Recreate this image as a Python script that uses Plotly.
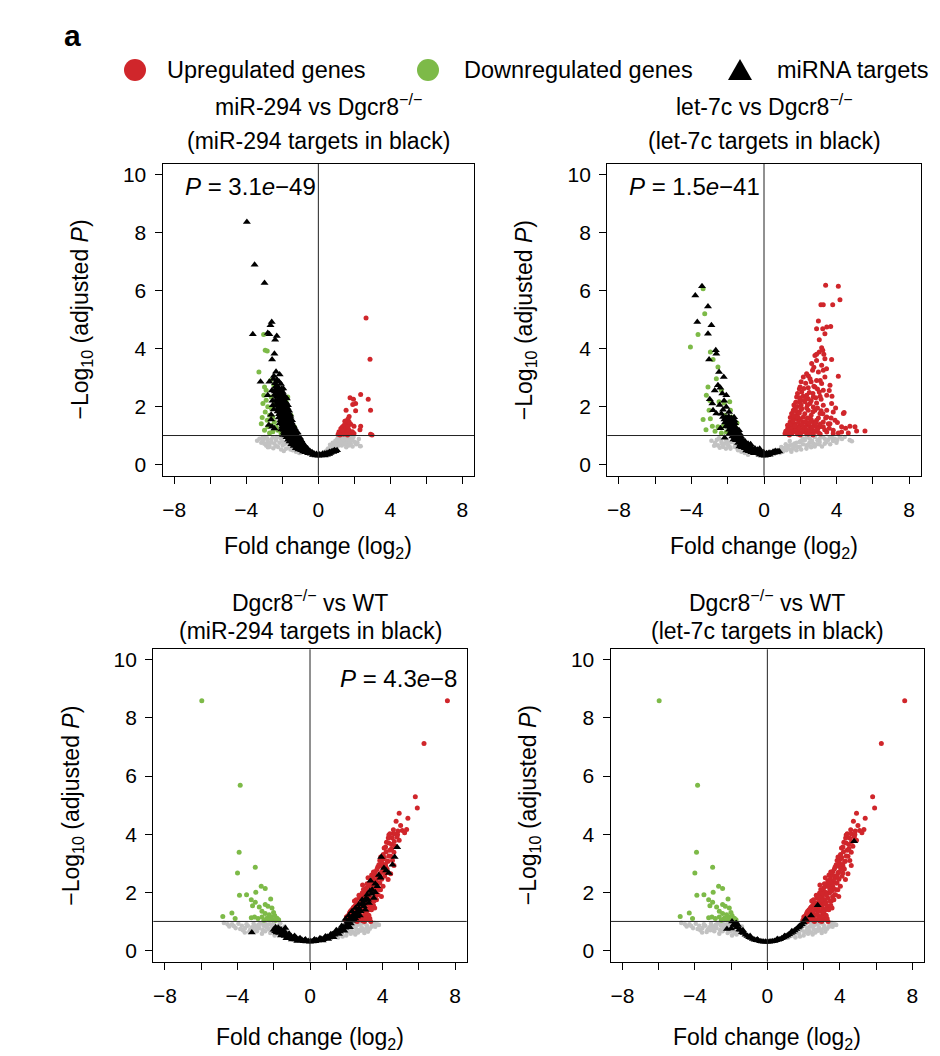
import plotly.graph_objects as go

# The page body adds an 8 px margin, so the figure is drawn 8 px smaller and every
# reference pixel position is shifted by that offset.
OFF = 8
W, H = 940 - OFF, 1056 - OFF
FONT = "Liberation Sans, Arial, Helvetica, sans-serif"

# ---------------- data (log2 fold change, -log10 adjusted P) ----------------
# Panel 1: miR-294 vs Dgcr8-/-
p1_grey = [(0.33,0.43),(0.51,0.52),(0.69,0.61),(0.88,0.70),(1.06,0.78),(1.25,0.86),(1.43,0.95),(1.15,0.72),
           (1.34,0.78),(1.52,0.84),(1.71,0.89),(1.89,0.84),(1.80,0.72),(2.02,0.78),(2.31,0.64),(2.17,0.75),
           (1.61,0.78),(0.97,0.61),(0.79,0.53),(0.60,0.47),(1.43,0.70),(1.65,0.93),(1.95,0.95),(2.35,0.63),
           (1.20,0.92),(1.05,0.88),(0.45,0.40),(0.72,0.50),(1.30,0.66),(1.55,0.60),(0.90,0.56),(1.10,0.65),
           (-3.27,0.89),(-3.08,0.84),(-2.81,0.78),(-2.62,0.86),(-2.44,0.72),(-2.25,0.61),(-2.07,0.52),(-1.92,0.47),
           (-1.79,0.55),(-2.90,0.66),(-2.71,0.61),(-2.53,0.93),(-3.17,0.75),(-2.99,0.95),(-2.35,0.84),(-2.16,0.75),
           (-1.98,0.66),(-1.61,0.61),(-1.42,0.49),(-1.24,0.44),(-1.06,0.40),(-3.04,0.86),(-2.72,0.72),(-2.35,0.64),
           (-1.85,0.72),(-2.10,0.90),
           (0.25,0.36),(0.40,0.45),(0.55,0.55),(0.65,0.68),(0.80,0.75),(0.95,0.82),(1.10,0.96),(1.25,0.75),
           (1.40,0.86),(1.58,0.97),(1.75,0.80),(1.85,0.96),(2.10,0.70),(2.25,0.88),(1.00,0.70),(0.85,0.64),
           (1.35,0.92),(1.50,0.72),(1.70,0.66),(1.90,0.62),(-3.40,0.82),(-3.10,0.92),(-2.85,0.90),(-2.60,0.76),
           (-2.50,0.56),(-2.30,0.95),(-2.00,0.80),(-1.70,0.75),(-1.55,0.52),(-1.35,0.58),(-1.15,0.50),(-0.95,0.42),
           (-2.80,0.60),(-3.00,0.72)]
p1_down = [(-3.04,4.48),(-2.95,3.94),(-2.84,3.91),(-3.30,3.19),(-2.99,2.67),(-3.03,2.39),(-2.90,2.22),(-3.08,2.10),
           (-2.81,1.99),(-2.95,1.81),(-2.71,1.70),(-2.84,1.53),(-2.53,1.64),(-2.44,1.47),(-2.62,1.35),(-2.35,1.30),
           (-2.81,1.30),(-2.99,1.18),(-2.53,1.13),(-2.25,1.18),(-2.71,1.09),(-2.07,1.07),(-1.89,1.87),(-1.79,2.16),
           (-1.70,2.33),(-1.98,2.44),(-2.16,2.56),(-1.52,1.70),(-1.61,1.47),(-1.33,1.30),(-1.42,1.13),(-1.24,1.07),
           (-2.62,2.33),(-2.44,2.10),(-3.17,1.41),(-2.90,2.56),(-2.66,2.90),(-2.47,2.73),(-3.12,1.62),(-2.60,1.92)]
p1_up = [(2.65,5.05),(2.87,3.63),(2.35,2.41),(1.76,2.30),(1.95,2.25),(2.77,2.25),(2.07,2.10),(1.91,2.07),
         (2.90,1.87),(2.07,1.85),(1.54,1.87),(1.71,1.66),(1.65,1.57),(1.52,1.50),(1.80,1.39),(1.98,1.32),
         (2.35,1.32),(2.31,1.20),(2.90,1.04),(2.98,1.02),(1.15,1.13),(1.25,1.24),(1.34,1.30),(1.43,1.35),
         (1.39,1.18),(1.52,1.24),(1.61,1.13),(1.71,1.18),(1.80,1.09),(1.89,1.13),(1.47,1.07),(1.28,1.07),
         (1.10,1.04),(1.58,1.41),(1.71,1.47),(1.98,1.07),(1.34,1.16),(1.15,1.07),(1.65,1.30),(1.47,1.49),
         (1.20,1.02),(1.62,1.02),(1.40,1.04)]
p1_tgt = [(-3.97,8.36),(-3.54,6.89),(-2.99,6.26),(-2.59,4.91),(-2.66,4.80),(-3.64,4.49),(-2.81,4.53),(-2.72,4.49),
          (-2.31,4.43),(-2.40,4.30),(-2.44,3.82),(-2.57,3.62),(-2.35,3.20),(-3.21,2.85),(-2.72,2.85),(-2.26,2.88),
          (-2.81,2.39),(-2.53,2.04),(-2.75,1.36),(-2.57,1.30),(-2.44,1.24),
          (-2.30,2.92),(-2.18,2.85),(-2.08,2.78),(-2.36,2.70),(-2.22,2.66),(-2.05,2.60),(-2.42,2.52),(-2.27,2.48),
          (-2.12,2.45),(-1.96,2.40),(-2.33,2.33),(-2.19,2.28),(-2.04,2.25),(-1.90,2.20),(-1.79,2.14),(-2.29,2.12),
          (-2.14,2.08),(-1.99,2.03),(-1.86,1.99),(-1.71,1.95),(-2.24,1.93),(-2.09,1.88),(-1.96,1.84),(-1.82,1.80),
          (-1.66,1.76),(-1.56,1.72),(-2.18,1.73),(-2.04,1.69),(-1.90,1.65),(-1.76,1.61),(-1.61,1.57),(-1.46,1.53),
          (-2.10,1.52),(-1.95,1.48),(-1.81,1.45),(-1.66,1.41),(-1.51,1.37),(-1.37,1.33),(-2.01,1.31),(-1.86,1.28),
          (-1.72,1.24),(-1.56,1.21),(-1.42,1.17),(-1.27,1.14),(-1.15,1.10),(-1.91,1.12),(-1.76,1.08),(-1.61,1.05),
          (-1.46,1.01),(-1.31,0.98),(-1.16,0.95),(-1.01,0.92),(-1.77,0.94),(-1.62,0.91),(-1.47,0.87),(-1.32,0.84),
          (-1.17,0.81),(-1.02,0.78),(-0.87,0.75),(-1.60,0.79),(-1.45,0.76),(-1.30,0.72),(-1.15,0.69),(-0.99,0.66),
          (-0.84,0.63),(-0.70,0.60),(-1.36,0.64),(-1.21,0.61),(-1.06,0.58),(-0.91,0.55),(-0.76,0.52),(-0.61,0.49),
          (-0.46,0.46),(-1.10,0.52),(-0.96,0.49),(-0.81,0.47),(-0.66,0.44),(-0.51,0.41),(-0.36,0.39),(-0.21,0.36),
          (-0.72,0.42),(-0.57,0.39),(-0.42,0.37),(-0.27,0.35),(-0.12,0.33),(-0.30,0.33),(-0.15,0.31),(0.00,0.30),
          (0.14,0.31),(0.28,0.32),(0.05,0.33),(0.20,0.34),(0.40,0.35),(0.54,0.37),(0.68,0.40),(0.83,0.43),
          (0.95,0.46),(1.04,0.49),(0.48,0.40),(0.62,0.43),(0.77,0.46),(0.90,0.49),
          (-2.38,2.60),(-2.25,2.55),(-2.10,2.52),(-1.98,2.50),(-2.31,2.40),(-2.16,2.36),(-2.02,2.32),(-1.88,2.30),
          (-2.37,2.20),(-2.24,2.18),(-2.10,2.15),(-1.95,2.12),(-1.82,2.08),(-1.69,2.04),(-2.32,2.02),(-2.18,1.98),
          (-2.03,1.95),(-1.90,1.92),(-1.76,1.88),(-1.62,1.85),(-2.26,1.83),(-2.12,1.79),(-1.98,1.76),(-1.84,1.72),
          (-1.70,1.68),(-1.55,1.65),(-2.20,1.62),(-2.06,1.58),(-1.92,1.55),(-1.78,1.52),(-1.63,1.48),(-1.48,1.45),
          (-2.14,1.42),(-2.00,1.38),(-1.86,1.36),(-1.72,1.33),(-1.58,1.29),(-1.43,1.26),(-1.30,1.24),(-2.06,1.21),
          (-1.92,1.19),(-1.78,1.16),(-1.64,1.13),(-1.49,1.10),(-1.35,1.07),(-1.21,1.04),(-1.96,1.02),(-1.82,1.00),
          (-1.68,0.98),(-1.53,0.95),(-1.39,0.92),(-1.24,0.89),(-1.09,0.86),(-0.95,0.84),(-1.68,0.85),(-1.54,0.83),
          (-1.39,0.80),(-1.24,0.77),(-1.09,0.74),(-0.94,0.71),(-0.79,0.68),(-1.50,0.70),(-1.35,0.68),(-1.20,0.66),
          (-1.05,0.64),(-0.90,0.61),(-0.75,0.58),(-0.60,0.55),(-1.25,0.56),(-1.10,0.55),(-0.95,0.53),(-0.80,0.50),
          (-0.65,0.48),(-0.50,0.45),(-0.35,0.42),(-0.85,0.45),(-0.70,0.43),(-0.55,0.42),(-0.40,0.40),(-0.25,0.38),
          (-0.10,0.36),(0.08,0.35),(0.24,0.37),(0.36,0.38),(0.58,0.40),(0.72,0.44),(0.86,0.47),(0.35,0.31),
          (0.48,0.34),(0.60,0.36),(-2.55,2.20),(-2.62,1.72),(-2.48,1.90),(-2.58,2.55),(-2.47,3.05),(-2.15,3.10),
          (-2.62,1.55),(-2.50,2.95),(-2.40,2.80),(-1.85,2.35),(-1.75,2.28),(-2.45,2.40),(-1.95,2.62)]

# Panel 2: let-7c vs Dgcr8-/-
p2_grey = [(-2.35,0.78),(-2.17,0.72),(-1.98,0.66),(-1.80,0.78),(-2.48,0.90),(-1.62,0.61),(-2.26,0.61),(-1.43,0.49),
           (-1.25,0.44),(-2.54,0.66),(-2.08,0.84),(-1.85,0.55),(-1.06,0.40),(-0.88,0.34),(-2.70,0.75),(-2.90,0.82),
           (-2.44,0.58),(-1.70,0.90),(0.32,0.38),(0.59,0.44),(0.87,0.49),(1.14,0.58),(1.42,0.66),(1.69,0.72),
           (1.97,0.78),(2.25,0.84),(2.52,0.89),(2.80,0.95),(3.07,0.89),(3.35,0.89),(3.63,0.95),(3.90,0.89),
           (4.18,0.95),(4.45,0.95),(4.73,0.84),(1.60,0.55),(1.97,0.61),(2.34,0.66),(2.71,0.72),(3.07,0.78),
           (3.44,0.78),(3.81,0.81),(1.23,0.49),(1.51,0.44),(0.87,0.40),(2.34,0.55),(2.89,0.70),(1.79,0.49),
           (2.15,0.89),(1.42,0.81),(3.20,0.62),(2.60,0.60),(4.00,0.75),(1.05,0.45),
           (0.45,0.41),(0.70,0.46),(1.00,0.52),(1.30,0.60),(1.55,0.68),(1.80,0.75),(2.05,0.82),(2.35,0.93),
           (2.65,0.82),(2.95,0.84),(3.25,0.95),(3.55,0.85),(3.75,0.92),(4.05,0.85),(4.30,0.88),(1.20,0.70),
           (1.85,0.60),(2.15,0.70),(2.50,0.74),(2.80,0.62),(3.05,0.70),(3.35,0.72),(3.65,0.70),(1.45,0.52),
           (1.70,0.62),(0.95,0.60),(2.05,0.52),(-2.60,0.85),(-2.30,0.70),(-2.00,0.76),(-1.90,0.62),(-1.60,0.72),
           (-1.50,0.58),(-1.35,0.52),(-1.15,0.47),(-0.95,0.42),(-2.75,0.65),(-2.10,0.55),(4.85,0.80),(2.45,0.66)]
p2_down = [(-3.36,6.06),(-3.27,5.20),(-3.64,4.48),(-4.06,4.05),(-2.96,3.88),(-2.81,3.62),(-2.54,3.36),(-2.63,2.96),
           (-3.09,2.67),(-3.18,2.39),(-2.35,2.56),(-2.99,2.21),(-2.48,2.16),(-3.03,1.87),(-3.36,1.55),(-2.96,1.58),
           (-2.85,1.32),(-2.54,1.30),(-2.26,1.32),(-1.98,1.47),(-1.80,1.64),(-1.74,1.41),(-1.62,1.30),(-1.49,1.43),
           (-2.08,1.12),(-2.35,1.09),(-1.52,1.12),(-2.17,1.70),(-1.89,2.16),(-2.20,2.12),(-1.85,1.87),(-3.20,1.20),
           (-2.70,1.15)]
p2_up = [(3.40,6.18),(4.10,6.15),(4.19,5.68),(3.79,5.51),(3.14,5.51),(3.27,5.51),(3.00,4.95),(2.90,4.68),
         (3.24,4.68),(3.46,4.74),(3.68,4.76),(3.36,4.51),(3.18,4.03),(3.05,3.88),(3.24,3.94),(2.81,3.76),
         (3.36,3.65),(3.73,3.62),(2.90,3.59),(3.18,3.42),(2.63,3.48),(2.68,3.25),(2.35,3.13),(3.00,3.19),
         (3.27,3.25),(2.17,3.02),(2.54,2.96),(2.90,2.90),(3.36,3.02),(4.10,3.04),(3.64,2.73),(3.18,2.79),
         (1.99,2.67),(2.44,2.65),(2.81,2.67),(3.27,2.56),(3.46,2.39),(2.08,2.50),(2.35,2.39),(2.72,2.33),
         (3.09,2.35),(1.80,2.33),(1.95,2.16),(2.26,2.16),(2.54,2.10),(2.90,2.12),(3.27,2.04),(3.73,2.10),
         (1.71,1.98),(2.08,1.93),(2.44,1.87),(2.81,1.87),(3.09,1.76),(3.46,1.64),(4.38,1.76),(3.92,1.53),
         (1.53,1.76),(1.80,1.70),(2.17,1.64),(2.54,1.58),(2.90,1.53),(3.27,1.47),(3.64,1.41),(1.44,1.47),
         (1.71,1.41),(1.99,1.35),(2.35,1.35),(2.72,1.32),(3.09,1.30),(4.28,1.30),(4.74,1.32),(5.02,1.30),
         (1.31,1.24),(1.58,1.18),(1.89,1.15),(2.26,1.12),(2.63,1.12),(3.00,1.10),(3.46,1.12),(3.82,1.18),
         (1.25,1.09),(1.53,1.07),(1.16,1.07),(4.28,1.12),(5.57,1.16),(1.80,1.30),(2.17,1.24),(2.54,1.30),
         (1.62,1.87),(1.89,1.81),(2.08,2.21),(2.44,2.27),(2.72,1.98),(1.80,1.58),(2.17,1.47),(2.44,1.43),
         (2.72,1.47),(1.99,1.58),(1.62,1.58),(1.40,1.30),(2.90,1.30),(3.27,1.30),(3.82,1.07),(4.10,1.09),
         (4.65,1.09),(5.11,1.16),(2.35,1.09),(2.72,1.07),(3.55,1.41),(3.82,1.81),(3.46,1.87),(4.42,1.79),
         (1.20,1.15),(1.35,1.10),(1.45,1.20),(1.55,1.28),(1.65,1.12),(1.75,1.22),(1.85,1.05),(1.95,1.25),
         (2.05,1.10),(2.15,1.18),(2.25,1.28),(2.35,1.20),(2.45,1.05),(2.55,1.18),(2.65,1.26),(2.80,1.15),
         (2.95,1.22),(3.10,1.05),(1.30,1.35),(1.50,1.40),(1.60,1.50),(1.70,1.32),(1.90,1.45),(2.00,1.55),
         (2.10,1.38),(2.30,1.48),(2.40,1.60),(2.50,1.42),(2.60,1.55),(2.85,1.42),(3.00,1.60),(1.45,1.62),
         (1.55,1.75),(1.65,1.68),(1.75,1.85),(1.85,1.65),(1.95,1.78),(2.05,1.90),(2.25,1.75),(2.35,1.95),
         (2.60,1.70),(2.70,1.82),(2.95,1.95),(3.15,1.85),(1.65,2.05),(1.75,2.15),(1.85,2.00),(1.95,2.30),
         (2.05,2.05),(2.15,2.35),(2.30,2.28),(2.40,2.05),(2.60,2.20),(2.70,2.45),(2.85,2.30),(3.05,2.50),
         (3.15,2.25),(1.85,2.45),(1.95,2.60),(2.20,2.62),(2.30,2.80),(2.50,2.48),(2.60,2.85),(2.75,2.70),
         (2.95,2.60),(3.10,2.90),(2.05,2.85),(2.45,3.05),(2.75,3.35),(2.90,3.80),(3.05,4.30),(3.30,3.80),
         (3.45,3.30),(3.60,2.55),(3.75,2.35),(3.95,1.95),(4.05,1.45),(4.50,1.25),(3.35,1.20),(3.60,1.25),
         (3.10,1.40),(3.40,1.60),(3.70,1.60),(2.00,1.02),(1.40,1.02),(2.70,1.02),(3.25,1.75)]
p2_tgt = [(-3.42,6.15),(-3.79,5.83),(-3.09,5.45),(-3.68,4.91),(-2.90,4.80),(-3.09,4.51),(-2.66,3.94),(-2.63,3.82),
          (-3.03,3.62),(-2.48,3.19),(-2.22,3.02),(-2.54,2.73),(-2.41,2.65),(-2.99,2.25),(-2.08,2.39),(-2.63,1.76),
          (-2.81,1.87),(-2.26,1.89),(-2.08,1.98),(-1.93,1.81),(-2.17,0.92),
          (-2.26,1.64),(-2.10,1.62),(-1.95,1.66),(-1.80,1.60),(-1.65,1.63),(-2.15,1.45),(-2.00,1.40),(-1.85,1.43),
          (-1.72,1.38),(-1.60,1.42),(-1.93,1.20),(-1.80,1.16),(-1.66,1.21),(-1.52,1.15),(-1.38,1.18),(-1.75,0.97),
          (-1.62,0.93),(-1.50,0.98),(-1.38,0.94),(-1.26,0.96),(-1.43,0.74),(-1.30,0.70),(-1.16,0.73),(-1.02,0.69),
          (-0.88,0.72),(-0.74,0.70),(-1.06,0.56),(-0.92,0.53),(-0.78,0.57),(-0.64,0.52),(-0.50,0.55),(-0.36,0.51),
          (-0.24,0.54),(-0.70,0.42),(-0.56,0.39),(-0.42,0.41),(-0.28,0.38),(-0.14,0.40),(0.00,0.37),(0.14,0.39),
          (0.28,0.41),(-0.24,0.34),(-0.10,0.31),(0.04,0.30),(0.18,0.32),(0.31,0.34),(0.45,0.38),(0.58,0.42),
          (0.68,0.44),(0.77,0.46),(0.50,0.44),(0.62,0.47),(-1.85,1.30),(-1.58,1.05),(-1.20,0.85),(-2.02,1.52),
          (-1.70,1.50),(-1.45,1.05),
          (-2.18,1.55),(-2.05,1.52),(-1.90,1.55),(-1.76,1.50),(-1.62,1.52),(-2.10,1.32),(-1.95,1.30),(-1.82,1.28),
          (-1.68,1.30),(-1.55,1.28),(-1.88,1.08),(-1.73,1.05),(-1.60,1.10),(-1.46,1.12),(-1.33,1.06),(-1.68,0.86),
          (-1.55,0.84),(-1.42,0.86),(-1.30,0.82),(-1.18,0.80),(-1.05,0.80),(-1.36,0.62),(-1.22,0.60),(-1.08,0.63),
          (-0.95,0.60),(-0.82,0.62),(-0.68,0.60),(-0.98,0.48),(-0.84,0.46),(-0.70,0.48),(-0.56,0.46),(-0.42,0.47),
          (-0.30,0.45),(-0.16,0.44),(-0.02,0.42),(0.10,0.35),(0.22,0.37),(0.38,0.40),(0.55,0.40),(0.72,0.42),
          (0.85,0.45),(-2.35,1.75),(-2.45,2.05),(-2.20,2.20),(-2.30,2.45),(-2.72,2.55),(-2.85,2.10),(-2.40,1.25)]

# Panels 3-4: Dgcr8-/- vs WT (same genes; different target sets)
wt_grey = [(-4.55,0.90),(-4.45,0.83),(-4.30,0.90),(-4.10,0.77),(-3.85,0.74),(-3.76,0.85),(-3.58,0.77),(-3.43,0.85),
           (-3.30,0.71),(-3.11,0.92),(-3.02,0.83),(-2.93,0.66),(-2.80,0.77),(-2.75,0.92),(-2.56,0.85),(-2.47,0.66),
           (-2.47,0.94),(-2.28,0.74),(-2.19,0.60),(-2.10,0.83),(-1.92,0.71),(-1.82,0.60),(-1.73,0.85),(-1.64,0.94),
           (-1.55,0.77),(-1.51,0.62),(-1.35,0.66),(-1.20,0.55),(-3.60,0.62),(-2.65,0.58),(-2.00,0.95),(-3.20,0.80),
           (-2.35,0.88),(-1.95,0.52),(-2.85,0.88),(-1.40,0.82),
           (1.00,0.48),(1.15,0.45),(1.30,0.50),(1.45,0.55),(1.60,0.62),(1.75,0.58),(1.80,0.48),(1.90,0.70),
           (2.00,0.52),(2.05,0.62),(2.10,0.92),(2.20,0.78),(2.30,0.68),(2.40,0.95),(2.45,0.85),(2.50,0.55),
           (2.55,0.74),(2.65,0.62),(2.75,0.90),(2.85,0.80),(2.95,0.70),(3.05,0.92),(3.15,0.84),(3.20,0.65),
           (3.30,0.75),(3.45,0.90),(3.60,0.82),(3.80,0.88),(1.55,0.45),(2.25,0.58),
           (1.20,0.58),(1.40,0.64),(1.65,0.70),(1.85,0.78),(2.00,0.85),(2.15,0.68),(2.35,0.82),(2.60,0.88),
           (2.70,0.70),(2.90,0.95),(3.10,0.76),(3.40,0.82),(3.55,0.95),(3.70,0.90),(2.45,0.62),(2.80,0.68),
           (3.00,0.60),(-4.20,0.84),(-3.95,0.92),(-3.70,0.70),(-3.50,0.90),(-3.35,0.64),(-3.15,0.70),(-2.95,0.76),
           (-2.60,0.70),(-2.40,0.80),(-2.20,0.90),(-2.05,0.66),(-1.85,0.80),(-1.65,0.70),(-1.45,0.60),(-1.25,0.62),
           (-1.10,0.52),(-1.70,0.55),(-2.55,0.95),(-4.75,0.95)]
wt_down = [(-5.97,8.59),(-3.85,5.68),(-3.91,3.38),(-4.00,2.67),(-3.02,2.86),(-3.89,1.90),(-3.50,1.92),(-2.69,2.21),
           (-2.47,2.13),(-2.99,2.00),(-2.17,1.77),(-3.24,1.75),(-3.02,1.66),(-3.17,1.54),(-2.80,1.50),(-2.47,1.58),
           (-2.32,1.52),(-2.10,1.46),(-2.65,1.35),(-2.47,1.27),(-2.25,1.23),(-2.01,1.31),(-4.31,1.29),(-4.81,1.17),
           (-4.13,1.10),(-3.24,1.13),(-3.06,1.15),(-2.87,1.10),(-2.65,1.15),(-2.38,1.11),(-2.14,1.15),(-1.95,1.20),
           (-1.82,1.11),(-2.06,1.06),(-2.28,1.06),(-1.73,1.06),(-1.88,1.04),(-2.54,1.04)]
wt_up = [(7.58,8.59),(6.29,7.12),(5.81,5.29),(5.92,4.90),(4.92,4.72),(5.40,4.55),(5.33,4.16),(5.09,4.13),
         (5.22,4.05),(4.85,4.11),(4.63,4.02),(4.41,4.02),(4.32,3.87),(4.54,3.87),(4.92,3.79),(4.17,3.56),
         (4.72,3.59),(4.63,3.38),(4.04,3.30),(4.45,3.24),(4.30,3.07),(4.63,2.92),(4.17,2.90),(3.98,3.01),
         (3.74,2.87),(3.61,2.72),(3.89,2.67),(4.17,2.67),(4.45,2.64),(3.49,2.55),(3.74,2.50),(3.34,2.40),
         (3.80,2.32),(3.25,2.21),(3.61,2.21),(3.89,2.09),(3.06,2.04),(2.88,1.98),(3.43,1.98),(3.71,1.92),
         (2.75,1.81),(3.15,1.75),(3.52,1.69),(2.60,1.63),(2.97,1.61),(3.34,1.52),(2.42,1.50),(2.69,1.40),
         (3.06,1.35),(2.23,1.35),(2.51,1.23),(2.88,1.17),(2.05,1.17),(2.32,1.08),(3.15,1.08),(1.96,1.04),
         (2.69,1.06),(3.06,1.27),(4.04,3.15),(4.22,3.72),(4.35,3.97),(4.83,3.99),(4.09,3.53),(3.90,3.22),
         (4.27,3.07),(4.16,2.96),(3.94,2.69),(3.76,2.55),(4.12,2.55),(3.48,2.46),(3.30,2.30),(3.85,2.32),
         (3.11,2.15),(3.57,2.15),(2.93,1.98),(3.35,1.98),(3.76,1.92),(2.74,1.81),(3.11,1.75),(3.48,1.69),
         (2.56,1.63),(2.93,1.58),(3.30,1.52),(2.38,1.46),(2.65,1.40),(3.02,1.35),(2.19,1.31),(2.47,1.23),
         (2.84,1.17),(2.01,1.15),(2.28,1.08),(2.65,1.06),(3.02,1.12),(3.20,1.23),(3.57,1.46),(3.94,1.86),
         (4.31,2.44),(4.03,2.21),(3.67,1.75),(3.39,1.40),(2.15,1.25),(2.40,1.32),(2.60,1.20),(2.80,1.45),
         (2.45,1.70),(2.70,1.90),(3.00,1.85),(3.20,2.00),(2.90,2.25),(3.40,2.60),(3.00,1.55),(3.25,1.65),
         (2.35,1.15),(2.50,1.05),(2.90,1.02),(3.30,1.10),(3.55,2.05),(3.65,2.40),(3.95,2.45),(4.05,2.80),
         (4.40,3.45),(4.50,3.65),(3.80,2.95),
         (2.10,1.05),(2.25,1.15),(2.45,1.10),(2.55,1.35),(2.75,1.25),(2.95,1.15),(3.10,1.30),(3.25,1.20),
         (2.30,1.40),(2.50,1.55),(2.65,1.50),(2.85,1.35),(3.05,1.45),(3.20,1.40),(2.55,1.75),(2.80,1.65),
         (2.95,1.75),(3.15,1.60),(3.35,1.80),(3.50,1.55),(2.85,1.85),(3.05,1.95),(3.25,1.90),(3.45,2.10),
         (3.60,1.85),(2.95,2.10),(3.15,2.30),(3.40,2.20),(3.55,2.30),(3.75,2.10),(3.20,2.50),(3.45,2.35),
         (3.60,2.60),(3.85,2.55),(3.50,2.70),(3.70,2.80),(3.95,2.90),(4.25,2.80),(3.85,3.10),(4.10,3.20),
         (4.35,3.25),(4.55,3.10),(4.20,3.40),(4.50,3.50),(4.35,3.70),(4.65,3.75),(4.80,3.90),(4.60,4.15),
         (5.00,4.30),(4.75,4.45),(2.20,1.00),(3.35,1.00),(2.60,1.00),(3.00,1.00)]
p3_tgt = [(-3.21,0.62),(-2.01,0.71),(-1.92,0.66),(-1.36,0.77),
          (-1.95,0.72),(-1.85,0.62),(-1.80,0.70),(-1.70,0.60),(-1.65,0.68),(-1.55,0.55),(-1.50,0.63),(-1.40,0.50),
          (-1.35,0.58),(-1.25,0.47),(-1.20,0.54),(-1.10,0.44),(-1.05,0.50),(-0.95,0.41),(-0.90,0.46),(-0.80,0.38),
          (-0.75,0.43),(-0.65,0.36),(-0.60,0.40),(-0.50,0.34),(-0.45,0.37),(-0.35,0.32),(-0.30,0.35),(-0.20,0.31),
          (-0.10,0.33),(0.00,0.30),(0.05,0.32),(0.15,0.31),(0.20,0.34),(0.30,0.32),(0.35,0.35),(0.45,0.34),
          (0.50,0.37),(0.60,0.36),(0.65,0.40),(0.75,0.39),(0.80,0.43),(0.90,0.42),(0.95,0.47),(1.05,0.45),
          (1.10,0.51),(1.20,0.50),(1.25,0.56),(1.35,0.54),(1.40,0.61),(1.50,0.60),(1.55,0.67),(1.65,0.65),
          (1.70,0.73),(1.80,0.72),(1.85,0.80),(1.95,0.78),(2.00,0.87),(2.10,0.86),(2.15,0.95),(2.25,0.93),
          (2.30,1.02),(-1.60,0.52),(-1.30,0.42),(-1.00,0.38),(-0.70,0.33),(0.70,0.34),(1.00,0.40),(1.30,0.46),
          (1.60,0.57),(1.90,0.68),(2.20,0.80),(-1.75,0.78),(-1.45,0.70),(1.45,0.70),(1.75,0.84),(2.05,0.98),
          (1.96,1.08),(2.14,1.20),(2.32,1.35),(2.42,1.06),(2.51,1.46),(2.60,1.17),(2.69,1.58),(2.79,1.35),
          (2.88,1.75),(2.97,1.52),(3.15,1.92),(3.25,1.63),(3.43,2.09),(3.52,1.81),(3.34,2.40),(3.71,2.21),
          (3.89,2.50),(4.08,2.84),(4.35,2.67),(3.93,3.22),(4.67,3.22),(4.81,3.55),(2.20,1.10),(2.45,1.25),
          (2.70,1.45),(3.00,1.70),(3.60,2.00),(2.55,1.30),(2.85,1.60),(3.10,1.80),(3.30,2.05),(2.35,1.20),
          (4.55,2.95),(4.20,2.75),
          (-1.90,0.80),(-1.60,0.72),(-1.15,0.58),(-0.85,0.50),(-0.55,0.42),(-0.25,0.38),(0.25,0.38),(0.55,0.42),
          (0.85,0.48),(1.15,0.56),(1.45,0.64),(1.75,0.76),(2.05,0.88),(2.35,1.10),(2.65,1.35),(2.95,1.62),
          (3.20,1.75),(3.40,1.95),(3.05,1.40),(2.75,1.20),(2.50,1.10),(3.60,2.30),(3.80,2.60)]
p4_tgt = [(-2.23,0.74),(-1.95,1.00),(-1.85,0.90),(-1.77,0.85),(-1.68,0.80),(-1.55,0.72),(-1.49,0.71),(-1.40,0.63),
          (-1.31,0.60),(-1.20,0.54),(-1.10,0.50),(-1.00,0.46),(-0.90,0.43),(-0.80,0.40),(-0.70,0.37),(-0.60,0.35),
          (-0.50,0.34),(-0.40,0.32),(-0.30,0.31),(-0.20,0.30),(-0.10,0.30),(0.00,0.30),(0.10,0.30),(0.20,0.31),
          (0.30,0.32),(0.40,0.33),(0.50,0.35),(0.60,0.37),(0.70,0.39),(0.80,0.42),(0.90,0.45),(1.00,0.48),
          (1.10,0.52),(1.20,0.56),(1.30,0.60),(1.40,0.64),(1.50,0.69),(1.60,0.74),(1.70,0.79),(1.80,0.85),
          (1.90,0.90),(2.00,0.96),(2.10,1.08),(2.41,1.20),(2.78,1.56),(4.79,3.76),(-1.72,0.95),(-1.62,0.88),
          (-1.35,0.70),(-0.95,0.50),(-0.55,0.38),(0.55,0.40),(0.95,0.50),(1.35,0.66),(1.75,0.83),(-2.00,0.76)]

titles_1 = ["miR-294 vs Dgcr8<sup>\u2212/\u2212</sup>", "let-7c vs Dgcr8<sup>\u2212/\u2212</sup>",
            "Dgcr8<sup>\u2212/\u2212</sup> vs WT", "Dgcr8<sup>\u2212/\u2212</sup> vs WT"]
titles_2 = ["(miR-294 targets in black)", "(let-7c targets in black)",
            "(miR-294 targets in black)", "(let-7c targets in black)"]
p_values = ["3.1", "1.5", "4.3", None]
p_exps = ["\u221249", "\u221241", "\u22128", None]
x_tick_vals = [-8, -4, 0, 4, 8]
x_tick_text = ["\u22128", "\u22124", "0", "4", "8"]
x_minor_vals = [-6, -2, 2, 6]
y_tick_vals = [0, 2, 4, 6, 8, 10]
y_tick_text = ["0", "2", "4", "6", "8", "10"]
legend_labels = ["Upregulated genes", "Downregulated genes", "miRNA targets"]

# ---------------- styling ----------------
RED, GREEN, GREY, BLACK = "#D0262B", "#7DBA48", "#C2C2C2", "#000000"
# panel boxes in reference pixels: left, right, top, bottom
boxes = [(162.7, 474.0, 164.0, 475.7), (607.3, 920.7, 164.0, 475.7),
         (153.3, 466.7, 649.3, 961.7), (610.7, 924.0, 649.3, 961.7)]
title_y = [(105, 141), (105, 141), (601, 631), (601, 631)]
xtitle_y = [547, 547, 1038, 1038]

panels = [
    dict(grey=p1_grey, down=p1_down, up=p1_up, tgt=p1_tgt),
    dict(grey=p2_grey, down=p2_down, up=p2_up, tgt=p2_tgt),
    dict(grey=wt_grey, down=wt_down, up=wt_up, tgt=p3_tgt),
    dict(grey=wt_grey, down=wt_down, up=wt_up, tgt=p4_tgt),
]


def px(x):
    return (x - OFF) / W


def py(y):
    return 1 - (y - OFF) / H


fig = go.Figure()
layout = dict(width=W, height=H, margin=dict(l=0, r=0, t=0, b=0),
              paper_bgcolor="white", plot_bgcolor="white", showlegend=False,
              font=dict(family=FONT, color="black"))
shapes, annotations = [], []
tick_style = dict(ticks="outside", ticklen=7, tickwidth=1.2, tickcolor="black")

for i, pnl in enumerate(panels):
    n = "" if i == 0 else str(i + 1)
    l, r, t, b = boxes[i]
    xa, ya = "x" + n, "y" + n
    specs = [("grey", GREY, "circle", 4.6), ("down", GREEN, "circle", 5.0),
             ("up", RED, "circle", 5.0), ("tgt", BLACK, "triangle-up", 7.0)]
    for key, col, sym, sz in specs:
        pts = pnl[key]
        fig.add_trace(go.Scatter(x=[p[0] for p in pts], y=[p[1] for p in pts], mode="markers",
                                 xaxis=xa, yaxis=ya, hoverinfo="skip",
                                 marker=dict(color=col, symbol=sym, size=sz, line=dict(width=0))))
    layout["xaxis" + n] = dict(domain=[px(l), px(r)], range=[-8.645, 8.645], anchor=ya,
                               tickmode="array", tickvals=x_tick_vals, ticktext=x_tick_text,
                               minor=dict(tickmode="array", tickvals=x_minor_vals, showgrid=False,
                                          **tick_style),
                               showline=True, linecolor="black", linewidth=1.4, mirror=True,
                               showgrid=False, zeroline=False, ticklabelstandoff=8,
                               tickfont=dict(size=21, family=FONT, color="black"), **tick_style)
    layout["yaxis" + n] = dict(domain=[py(b), py(t)], range=[-0.385, 10.36], anchor=xa,
                               tickmode="array", tickvals=y_tick_vals, ticktext=y_tick_text,
                               showline=True, linecolor="black", linewidth=1.4, mirror=True,
                               showgrid=False, zeroline=False, ticklabelstandoff=4,
                               tickfont=dict(size=21, family=FONT, color="black"), **tick_style)
    # reference lines x = 0 and y = 1
    shapes.append(dict(type="line", xref=xa, yref=ya + " domain", x0=0, x1=0, y0=0, y1=1,
                       line=dict(color="#222222", width=1)))
    shapes.append(dict(type="line", xref=xa + " domain", yref=ya, x0=0, x1=1, y0=1, y1=1,
                       line=dict(color="#222222", width=1)))
    cx = (l + r) / 2
    for txt, yy in [(titles_1[i], title_y[i][0]), (titles_2[i], title_y[i][1])]:
        annotations.append(dict(text=txt, x=px(cx), y=py(yy), xref="paper", yref="paper",
                                xanchor="center", yanchor="middle", showarrow=False,
                                font=dict(size=23)))
    annotations.append(dict(text="Fold change (log<sub>2</sub>)", x=px(cx), y=py(xtitle_y[i]),
                            xref="paper", yref="paper", xanchor="center", yanchor="middle",
                            showarrow=False, font=dict(size=23)))
    annotations.append(dict(text="\u2212Log<sub>10</sub> (adjusted <i>P</i>)", x=px(l - 81),
                            y=py((t + b) / 2), xref="paper", yref="paper", xanchor="center",
                            yanchor="middle", textangle=-90, showarrow=False, font=dict(size=23)))
    if p_values[i] is not None:
        txt = "<i>P</i> = " + p_values[i] + "<i>e</i>" + p_exps[i]
        if i < 2:
            annotations.append(dict(text=txt, x=px(l + 20), y=py(t + 23), xref="paper", yref="paper",
                                    xanchor="left", yanchor="middle", showarrow=False,
                                    font=dict(size=24)))
        else:
            annotations.append(dict(text=txt, x=px(r - 8), y=py(t + 29), xref="paper", yref="paper",
                                    xanchor="right", yanchor="middle", showarrow=False,
                                    font=dict(size=24)))

# panel letter
annotations.append(dict(text="<b>a</b>", x=px(62), y=py(36), xref="paper", yref="paper",
                        xanchor="left", yanchor="middle", showarrow=False, font=dict(size=30)))
# legend row
leg_y = 70
shapes.append(dict(type="circle", xref="paper", yref="paper", x0=px(124), x1=px(146),
                   y0=py(leg_y + 11), y1=py(leg_y - 11), fillcolor=RED, line=dict(width=0)))
shapes.append(dict(type="circle", xref="paper", yref="paper", x0=px(417), x1=px(439),
                   y0=py(leg_y + 11), y1=py(leg_y - 11), fillcolor=GREEN, line=dict(width=0)))
shapes.append(dict(type="path", xref="paper", yref="paper",
                   path="M %f,%f L %f,%f L %f,%f Z" % (px(728), py(leg_y + 10), px(752), py(leg_y + 10),
                                                        px(740), py(leg_y - 11)),
                   fillcolor=BLACK, line=dict(width=0)))
for lbl, lx in zip(legend_labels, [165, 462, 775]):
    annotations.append(dict(text=lbl, x=px(lx), y=py(leg_y), xref="paper", yref="paper",
                            xanchor="left", yanchor="middle", showarrow=False, font=dict(size=23.5)))

layout["shapes"] = shapes
layout["annotations"] = annotations
fig.update_layout(**layout)
fig.write_html("out.html")
